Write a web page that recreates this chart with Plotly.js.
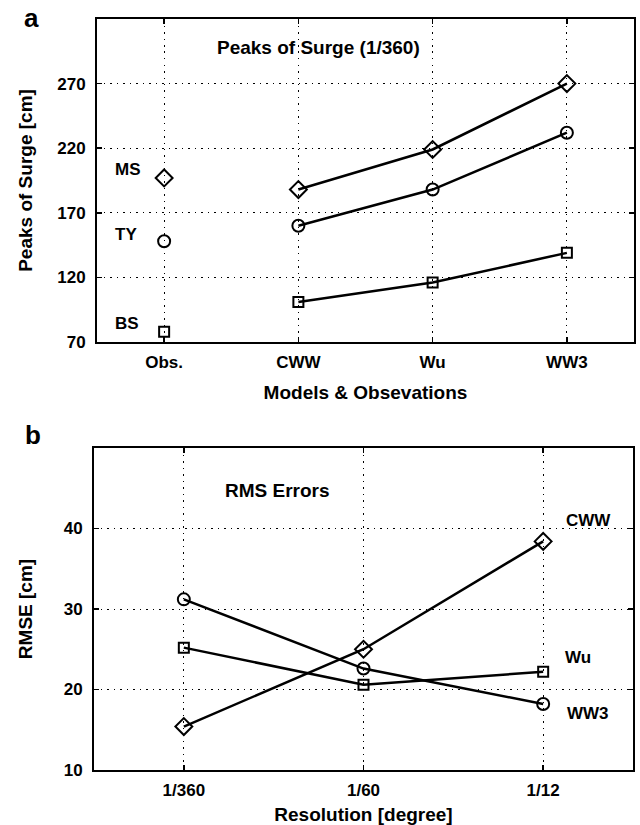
<!DOCTYPE html>
<html>
<head>
<meta charset="utf-8">
<script src="https://cdn.plot.ly/plotly-3.0.1.min.js"></script>
<style>
  html, body { margin: 0; padding: 0; background: #fff; }
  #chart { width: 640px; height: 825px; }
</style>
</head>
<body>
<div id="chart"></div>
<script>
// Panel a: peaks of surge for three storms, observed and modelled
const sources = ['Obs.', 'CWW', 'Wu', 'WW3'];
const storms = ['MS', 'TY', 'BS'];
const peakObs = [197, 148, 78];           // MS, TY, BS observed peaks [cm]
const peakMS = [188, 219, 270];           // CWW, Wu, WW3
const peakTY = [160, 188, 232];
const peakBS = [101, 116, 139];
const peakTicks = [70, 120, 170, 220, 270];

// Panel b: RMS errors against grid resolution
const resolutions = ['1/360', '1/60', '1/12'];
const rmseCWW = [15.4, 25.0, 38.4];
const rmseWu = [25.2, 20.6, 22.2];
const rmseWW3 = [31.2, 22.6, 18.2];
const rmseTicks = [10, 20, 30, 40];

const W = 640, H = 825;
const px = v => v / W;
const py = v => 1 - v / H;

const FONT = 'Liberation Sans, Arial, Helvetica, sans-serif';
const symbols = ['diamond-open', 'circle-open', 'square-open'];
const msize = [13, 12, 10];

const modelIdx = [2, 3, 4];
const modelSeries = [peakMS, peakTY, peakBS];

const traces = [];
// observed points, one marker per storm
storms.forEach((s, i) => {
  traces.push({
    x: [1], y: [peakObs[i]], xaxis: 'x', yaxis: 'y',
    mode: 'markers', type: 'scatter', name: s + ' obs',
    marker: { symbol: symbols[i], size: msize[i], color: '#000', line: { width: 2, color: '#000' } },
    showlegend: false
  });
});
// modelled peaks
modelSeries.forEach((ser, i) => {
  traces.push({
    x: modelIdx, y: ser, xaxis: 'x', yaxis: 'y',
    mode: 'lines+markers', type: 'scatter', name: storms[i],
    line: { color: '#000', width: 2.5 },
    marker: { symbol: symbols[i], size: msize[i], color: '#000', line: { width: 2, color: '#000' } },
    showlegend: false
  });
});

const rmseSeries = [rmseCWW, rmseWu, rmseWW3];
const rmseNames = ['CWW', 'Wu', 'WW3'];
const rmseSym = ['diamond-open', 'square-open', 'circle-open'];
const rmseSize = [13, 10, 12];
rmseSeries.forEach((ser, i) => {
  traces.push({
    x: [1, 2, 3], y: ser, xaxis: 'x2', yaxis: 'y2',
    mode: 'lines+markers', type: 'scatter', name: rmseNames[i],
    line: { color: '#000', width: 2.5 },
    marker: { symbol: rmseSym[i], size: rmseSize[i], color: '#000', line: { width: 2, color: '#000' } },
    showlegend: false
  });
});

const axisCommon = {
  showline: true, mirror: 'ticks', linecolor: '#000', linewidth: 2,
  showgrid: true, gridcolor: '#000', gridwidth: 1, griddash: '1.5px,5px',
  ticks: 'inside', ticklen: 5, tickwidth: 1.5, tickcolor: '#000',
  zeroline: false, fixedrange: true,
  tickfont: { family: FONT, size: 17, color: '#000', weight: 'bold' }
};
const titleFont = { family: FONT, size: 19, color: '#000', weight: 'bold' };

const txt = (text, x, y, size, extra) => Object.assign({
  text: text, x: px(x), y: py(y), xref: 'paper', yref: 'paper',
  showarrow: false, xanchor: 'left', yanchor: 'middle',
  font: { family: FONT, size: size, color: '#000', weight: 'bold' }
}, extra || {});

const layout = {
  width: W, height: H, autosize: false,
  margin: { l: 0, r: 0, t: 0, b: 0 },
  paper_bgcolor: '#fff', plot_bgcolor: '#fff',
  showlegend: false,
  xaxis: Object.assign({}, axisCommon, {
    domain: [px(97), px(634)], range: [0.5, 4.5],
    tickvals: [1, 2, 3, 4], ticktext: sources, anchor: 'y',
    ticklabelstandoff: 4,
    title: { text: 'Models &amp; Obsevations', font: titleFont, standoff: 14 }
  }),
  yaxis: Object.assign({}, axisCommon, {
    domain: [py(342), py(19)], range: [70, 320],
    tickvals: peakTicks, anchor: 'x',
    ticklabelstandoff: 6,
    title: { text: 'Peaks of Surge [cm]', font: titleFont, standoff: 20 }
  }),
  xaxis2: Object.assign({}, axisCommon, {
    domain: [px(94), px(633)], range: [0.5, 3.5],
    tickvals: [1, 2, 3], ticktext: resolutions, anchor: 'y2',
    ticklabelstandoff: 4,
    title: { text: 'Resolution [degree]', font: titleFont, standoff: 8 }
  }),
  yaxis2: Object.assign({}, axisCommon, {
    domain: [py(770), py(448)], range: [10, 50],
    tickvals: rmseTicks, anchor: 'x2',
    ticklabelstandoff: 6,
    title: { text: 'RMSE [cm]', font: titleFont, standoff: 26 }
  }),
  annotations: [
    txt('a', 31, 18, 26, { xanchor: 'center' }),
    txt('b', 33, 435, 26, { xanchor: 'center' }),
    txt('Peaks of Surge (1/360)', 318, 47, 19, { xanchor: 'center' }),
    txt('MS', 113, 169, 17),
    txt('TY', 113, 234, 17),
    txt('BS', 113, 323, 17),
    txt('RMS Errors', 277, 490, 19, { xanchor: 'center' }),
    txt('CWW', 564, 520, 17),
    txt('Wu', 563, 657, 17),
    txt('WW3', 565, 713, 17)
  ]
};

Plotly.newPlot('chart', traces, layout, { staticPlot: true, displayModeBar: false });
</script>
</body>
</html>
